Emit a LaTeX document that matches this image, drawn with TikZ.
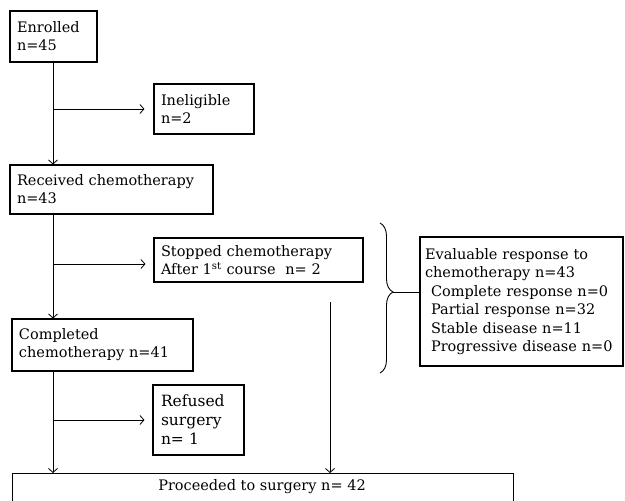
\documentclass[tikz,border=0pt]{standalone}
\usepackage{fontspec}
\setmainfont{DejaVu Serif}
\usetikzlibrary{arrows.meta,decorations.pathreplacing}
\begin{document}
\begin{tikzpicture}[x=1pt,y=-1pt,
  box/.style={draw, line width=1.1pt, align=left, inner xsep=7pt, inner ysep=0pt,
    font=\fontsize{14.5}{18}\selectfont},
  conn/.style={line width=0.8pt, -{Straight Barb[length=4pt,width=9pt]}},
  plain/.style={line width=0.8pt}]
\useasboundingbox (0,0) rectangle (625,501);
\clip (0,0) rectangle (625,501);
% boxes
\node[box, minimum width=87pt, minimum height=51pt, text width=73pt] (enr) at (53.5,36.5) {Enrolled\\n=45};
\node[box, minimum width=100pt, minimum height=50pt, text width=86pt] (inel) at (204,109) {Ineligible\\n=2};
\node[box, minimum width=203pt, minimum height=49pt, text width=189pt] (rec) at (111.5,189.5) {Received chemotherapy\\n=43};
\node[box, minimum width=209pt, minimum height=44pt, text width=195pt] (stop) at (258.5,260) {Stopped chemotherapy\\After 1\textsuperscript{st} course~~n= 2};
\node[box, minimum width=181pt, minimum height=52pt, text width=167pt] (comp) at (102.5,345) {Completed\\chemotherapy n=41};
\node[box, minimum width=91pt, minimum height=70pt, text width=75pt, inner xsep=8pt,
  font=\fontsize{15.5}{19}\selectfont] (ref) at (198.5,420) {Refused\\surgery\\n= 1};
\node[box, minimum width=203pt, minimum height=129pt, text width=193pt, inner xsep=5pt,
  font=\fontsize{14.5}{18.5}\selectfont] (eval) at (521.5,301.5)
  {Evaluable response to\\chemotherapy n=43\\
   \hspace*{6pt}Complete response n=0\\
   \hspace*{6pt}Partial response n=32\\
   \hspace*{6pt}Stable disease n=11\\
   \hspace*{6pt}Progressive disease n=0};
\node[box, minimum width=501pt, minimum height=40pt, anchor=north west] (proc) at (12,473) {};
\node[font=\fontsize{14.5}{18}\selectfont] (proct) at (262,487) {Proceeded to surgery n= 42};
% connectors
\coordinate (b1) at (53,109);
\coordinate (b2) at (53,264);
\coordinate (b3) at (53,420);
\coordinate (s1) at (330,302);
\draw[conn] (enr.south -| b1) -- (rec.north -| b1);
\draw[conn, shorten >=9pt] (b1) -- (inel.west);
\draw[conn] (rec.south -| b2) -- (comp.north -| b2);
\draw[conn, shorten >=8pt] (b2) -- (stop.west |- b2);
\draw[conn] (comp.south -| b3) -- (proc.north -| b3);
\draw[conn, shorten >=8pt] (b3) -- (ref.west |- b3);
\draw[conn] (s1) -- (proc.north -| s1);
% brace
\coordinate (bt) at (380,223);
\coordinate (bb) at (380,373);
\draw[line width=0.9pt, decorate, decoration={brace, amplitude=13pt, aspect=0.46}] (bt) -- (bb);
\coordinate (tip) at (393,292);
\draw[plain] (tip) -- (eval.west |- tip) ++(-14,0);
\end{tikzpicture}
\end{document}
